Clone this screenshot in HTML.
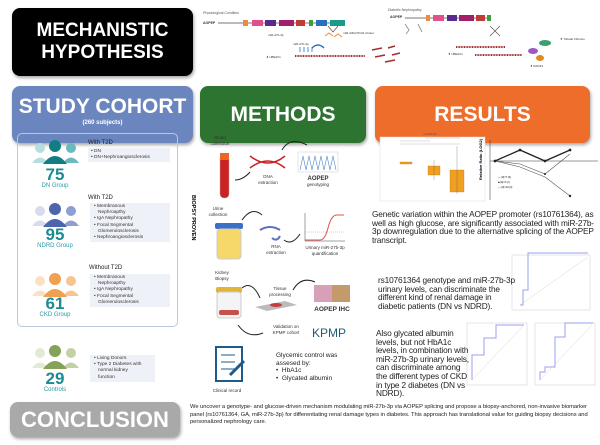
<!DOCTYPE html>
<html><head><meta charset="utf-8"><style>
*{margin:0;padding:0;box-sizing:border-box}
body{width:600px;height:445px;background:#fff;position:relative;overflow:hidden;font-family:"Liberation Sans",sans-serif}
.a{position:absolute}
.hd{position:absolute;border-radius:8px;color:#fff;font-weight:bold;text-align:center;font-family:"Liberation Sans Narrow","Liberation Sans",sans-serif;box-shadow:1px 2px 3px rgba(0,0,0,.35)}
.t{position:absolute;font-size:8.3px;line-height:8.6px;letter-spacing:-0.15px;color:#222}
.lb{position:absolute;background:#eef1f8;font-size:4.8px;line-height:6.2px;color:#333;padding:1px 3px}
.lb div:before{content:"•  "}
.num{position:absolute;font-weight:bold;font-size:17px;line-height:17px;text-align:center;width:60px}
.gl{position:absolute;font-size:6px;line-height:7px;text-align:center;width:60px}
.wt{position:absolute;font-size:6px;color:#222}
</style></head><body>

<div class="hd" style="left:12px;top:8px;width:181px;height:68px;background:#000;font-size:19px;line-height:22px;padding-top:12px">MECHANISTIC<br>HYPOTHESIS</div>
<div class="hd" style="left:12px;top:86px;width:181px;height:57px;background:#6b86bf;font-size:21px;line-height:22px;padding-top:10px">STUDY COHORT<div style="font-size:6px;line-height:10px;font-family:'Liberation Sans'">(260 subjects)</div></div>
<div class="hd" style="left:200px;top:86px;width:166px;height:57px;background:#2e7431;font-size:21px;line-height:57px">METHODS</div>
<div class="hd" style="left:375px;top:86px;width:215px;height:57px;background:#ee6d2a;font-size:21px;line-height:57px">RESULTS</div>

<svg class="a" style="left:200px;top:0" width="400" height="80">
<text x="3" y="14" font-size="3.5" fill="#555">Physiological Condition</text>
<text x="3" y="24" font-size="3.5" font-weight="bold" fill="#333">AOPEP</text>
<line x1="18" y1="23" x2="135" y2="23" stroke="#777" stroke-width="1"/>
<rect x="43" y="20" width="5" height="6" fill="#f08a3a"/><rect x="52" y="20" width="11" height="6" fill="#e0508a"/><rect x="65" y="20" width="11" height="6" fill="#5a2a8a"/><rect x="79" y="20" width="15" height="6" fill="#a0206a"/><rect x="96" y="20" width="9" height="6" fill="#c03a3a"/><rect x="109" y="20" width="4" height="6" fill="#3aa03a"/><rect x="116" y="20" width="11" height="6" fill="#2a70c0"/><rect x="130" y="20" width="15" height="6" fill="#1a9a8a"/>
<text x="68" y="36" font-size="3" fill="#333">miR-27b-3p</text>
<path d="M128 26 L133 32 L138 26" stroke="#444" fill="none" stroke-width=".6"/>
<path d="M125 36l4-3 4 3M134 37l4-3 4 3" stroke="#f08a3a" fill="none"/>
<text x="143" y="34" font-size="3" fill="#333">miR-23b/27b/24 cluster</text>
<line x1="95" y1="56" x2="165" y2="56" stroke="#a03030" stroke-width="2" stroke-dasharray="1 .6"/>
<path d="M100 52v-5M104 52v-5M108 52v-5M112 52v-5" stroke="#2a70c0" stroke-width=".8"/>
<path d="M112 48q6-6 12 0" stroke="#2a70c0" fill="none" stroke-width="1.5"/>
<text x="93" y="45" font-size="3" fill="#333">miR-27b-3p</text>
<text x="66" y="58" font-size="3" fill="#333">⬇ UBE2V1</text>
<g stroke="#a03030" stroke-width="1.5"><line x1="172" y1="50" x2="182" y2="48"/><line x1="175" y1="57" x2="185" y2="55"/><line x1="185" y1="62" x2="195" y2="60"/><line x1="188" y1="48" x2="195" y2="46"/><line x1="192" y1="55" x2="200" y2="53"/></g>
<text x="188" y="11" font-size="3.5" fill="#555">Diabetic Nephropathy</text>
<text x="190" y="18" font-size="3.5" font-weight="bold" fill="#333">AOPEP</text>
<line x1="205" y1="18" x2="290" y2="18" stroke="#777"/>
<rect x="226" y="15" width="4" height="6" fill="#f08a3a"/><rect x="233" y="15" width="11" height="6" fill="#e0508a"/><rect x="247" y="15" width="10" height="6" fill="#5a2a8a"/><rect x="259" y="15" width="15" height="6" fill="#a0206a"/><rect x="276" y="15" width="9" height="6" fill="#c03a3a"/><rect x="287" y="15" width="4" height="6" fill="#3aa03a"/>
<path d="M205 24l4 6-3 4M218 24l4 8" stroke="#999" fill="none"/>
<path d="M290 26l10 10M300 26l-10 10" stroke="#555" stroke-width=".7"/>
<line x1="256" y1="47" x2="305" y2="47" stroke="#a03030" stroke-width="2" stroke-dasharray="1 .6"/>
<line x1="275" y1="55" x2="322" y2="55" stroke="#a03030" stroke-width="2" stroke-dasharray="1 .6"/>
<text x="248" y="55" font-size="3" fill="#333">⬆ UBE2V1</text>
<ellipse cx="333" cy="51" rx="5" ry="3" fill="#9a5ac0"/><ellipse cx="345" cy="43" rx="6" ry="3" fill="#3aa070"/><ellipse cx="340" cy="58" rx="4" ry="3" fill="#e08a20"/>
<text x="360" y="40" font-size="3" fill="#333">⬆ Tubular Fibrosis</text>
<text x="330" y="67" font-size="3" fill="#333">⬆ RAD23</text>
</svg>

<div class="a" style="left:17px;top:133px;width:161px;height:194px;border:1px solid #bcc6e0;border-radius:5px"></div>
<div class="a" style="left:184px;top:195px;width:12px;font-size:5.5px;font-weight:bold;writing-mode:vertical-rl">BIOPSY PROVEN</div>
<svg class="a" style="left:30px;top:140px" width="52" height="250">
<g><circle cx="10" cy="8" r="5" fill="#b6dde0"/><circle cx="41" cy="8" r="5" fill="#6bb8bf"/><path d="M2 23q8-11 16 0z" fill="#b6dde0"/><path d="M33 23q8-11 16 0z" fill="#6bb8bf"/><circle cx="25" cy="6" r="6" fill="#137d85"/><path d="M13 24q12-16 24 0z" fill="#137d85"/></g>
<g transform="translate(0,63)"><circle cx="10" cy="8" r="5" fill="#d6dcee"/><circle cx="41" cy="8" r="5" fill="#8d9fd2"/><path d="M2 23q8-11 16 0z" fill="#d6dcee"/><path d="M33 23q8-11 16 0z" fill="#8d9fd2"/><circle cx="25" cy="6" r="6" fill="#4c65ad"/><path d="M13 24q12-16 24 0z" fill="#4c65ad"/></g>
<g transform="translate(0,133)"><circle cx="10" cy="8" r="5" fill="#fbe0c4"/><circle cx="41" cy="8" r="5" fill="#f6c592"/><path d="M2 23q8-11 16 0z" fill="#fbe0c4"/><path d="M33 23q8-11 16 0z" fill="#f6c592"/><circle cx="25" cy="6" r="6" fill="#f0a050"/><path d="M13 24q12-16 24 0z" fill="#f0a050"/></g>
<g transform="translate(0,205)"><circle cx="10" cy="8" r="5" fill="#e2ead5"/><circle cx="41" cy="8" r="5" fill="#c2d2a6"/><path d="M2 23q8-11 16 0z" fill="#e2ead5"/><path d="M33 23q8-11 16 0z" fill="#c2d2a6"/><circle cx="25" cy="6" r="6" fill="#86a158"/><path d="M13 24q12-16 24 0z" fill="#86a158"/></g>
</svg>
<div class="num" style="left:25px;top:166px;color:#1d8a94">75</div><div class="gl" style="left:25px;top:183px;color:#2a9aa5">DN Group</div>
<div class="num" style="left:25px;top:226px;color:#1d8a94">95</div><div class="gl" style="left:25px;top:243px;color:#2a9aa5">NDRD Group</div>
<div class="num" style="left:25px;top:295px;color:#1d8a94">61</div><div class="gl" style="left:25px;top:312px;color:#2a9aa5">CKD Group</div>
<div class="num" style="left:25px;top:370px;color:#1d8a94">29</div><div class="gl" style="left:25px;top:387px;color:#2a9aa5">Controls</div>

<div class="wt" style="left:88px;top:140px">With T2D</div>
<div class="lb" style="left:88px;top:148px;width:82px"><div>DN</div><div>DN+Nephroangiosclerosis</div></div>
<div class="wt" style="left:88px;top:195px">With T2D</div>
<div class="lb" style="left:90px;top:203px;width:80px;padding-left:4px"><div>Membranous<br>&nbsp;&nbsp;&nbsp;Nephroapthy</div><div>IgA Nephropathy</div><div>Focal Segmental<br>&nbsp;&nbsp;&nbsp;Glomerulosclerosis</div><div>Nephroangiosclerosis</div></div>
<div class="wt" style="left:89px;top:265px">Without T2D</div>
<div class="lb" style="left:90px;top:274px;width:80px;padding-left:4px"><div>Membranous<br>&nbsp;&nbsp;&nbsp;Nephroapthy</div><div>IgA Nephropathy</div><div>Focal Segmental<br>&nbsp;&nbsp;&nbsp;Glomerulosclerosis</div></div>
<div class="lb" style="left:90px;top:355px;width:65px;padding-left:4px"><div>Living Donors</div><div>Type 2 Diabetes with<br>&nbsp;&nbsp;&nbsp;normal kidney<br>&nbsp;&nbsp;&nbsp;function</div></div>

<svg class="a" style="left:200px;top:130px" width="170" height="270" font-family="Liberation Sans" font-size="4.5" fill="#333">
<text x="20" y="9" text-anchor="middle">Blood</text><text x="20" y="15" text-anchor="middle">collection</text>
<rect x="20" y="25" width="9" height="43" rx="4" fill="#c22" stroke="#aaa" stroke-width=".5"/><rect x="20" y="23" width="9" height="7" fill="#ee6622"/>
<path d="M35 50q8 0 15-8" stroke="#222" fill="none"/>
<path d="M50 26q18 14 35 0M50 38q18-14 35 0" stroke="#c22" stroke-width="1.5" fill="none"/>
<text x="68" y="48" text-anchor="middle">DNA</text><text x="68" y="54" text-anchor="middle">extraction</text>
<path d="M82 20q8-14 25-5" stroke="#222" fill="none"/>
<rect x="98" y="22" width="40" height="20" fill="#fff" stroke="#ccc" stroke-width=".5"/>
<path d="M100 40l3-14 3 14 3-14 3 14 3-14 3 14 3-14 3 14 3-14 3 14 3-14 3 14" stroke="#5a8ad0" stroke-width=".6" fill="none"/>
<text x="118" y="50" text-anchor="middle" font-weight="bold" font-size="6">AOPEP</text><text x="118" y="56" text-anchor="middle">genotyping</text>
<text x="18" y="80" text-anchor="middle">Urine</text><text x="18" y="86" text-anchor="middle">collection</text>
<rect x="15" y="93" width="28" height="6" rx="2" fill="#3a70c8"/><rect x="17" y="99" width="24" height="30" rx="3" fill="#f5d76a" stroke="#ccc"/>
<path d="M42 90q10-14 20-5" stroke="#222" fill="none"/>
<path d="M60 100q10-6 20 0M72 108q5 4 8-2" stroke="#5a70c0" stroke-width="2" fill="none"/>
<text x="76" y="118" text-anchor="middle">RNA</text><text x="76" y="124" text-anchor="middle">extraction</text>
<path d="M84 110q8 6 16-6" stroke="#222" fill="none"/>
<line x1="105" y1="83" x2="105" y2="111" stroke="#444" stroke-width=".5"/><line x1="105" y1="111" x2="145" y2="111" stroke="#444" stroke-width=".5"/>
<path d="M105 110h15q5 0 8-12t8-13h8" stroke="#e05050" fill="none"/><line x1="105" y1="102" x2="145" y2="102" stroke="#888" stroke-width=".4" stroke-dasharray="1 1"/>
<text x="125" y="119" text-anchor="middle">Urinary miR-27b-3p</text><text x="125" y="125" text-anchor="middle">quantification</text>
<text x="22" y="144" text-anchor="middle">Kidney</text><text x="22" y="150" text-anchor="middle">Biopsy</text>
<rect x="16" y="157" width="26" height="6" rx="2" fill="#e2b43a"/><rect x="17" y="162" width="24" height="26" rx="3" fill="#f4f4f4" stroke="#ccc"/><rect x="19" y="180" width="20" height="5" rx="2" fill="#c8504a"/>
<path d="M42 158q10-8 18 10" stroke="#222" fill="none"/>
<path d="M55 177l30-6 12 4-30 6z" fill="#bbb"/><ellipse cx="76" cy="175" rx="6" ry="2" fill="#c04040"/>
<text x="80" y="160" text-anchor="middle">Tissue</text><text x="80" y="166" text-anchor="middle">processing</text>
<path d="M93 160q8-14 22-8" stroke="#222" fill="none"/>
<rect x="114" y="155" width="36" height="17" fill="#d8a0b8"/><rect x="132" y="155" width="18" height="17" fill="#c49a6a"/>
<text x="132" y="181" text-anchor="middle" font-weight="bold" font-size="6.5">AOPEP IHC</text>
<path d="M38 195q10 14 25 8" stroke="#222" fill="none"/>
<text x="86" y="198" text-anchor="middle">Validation on</text><text x="86" y="204" text-anchor="middle">KPMP cohort</text>
<text x="112" y="207" font-size="12" fill="#1e5a7a" font-family="Liberation Sans Narrow,Liberation Sans">KPMP</text>
<rect x="16" y="217" width="26" height="34" fill="#fff" stroke="#1e5a8a" stroke-width="2"/>
<path d="M21 225h14M21 232h14M21 239h14" stroke="#1e5a8a"/><path d="M30 245l14-14" stroke="#1e5a8a" stroke-width="3"/>
<text x="27" y="262" text-anchor="middle">Clinical record</text>
</svg>
<div class="a" style="left:276px;top:352px;font-size:6.5px;line-height:7.5px;color:#222">Glycemic control was<br>assesed by:<br>•&nbsp; HbA1c<br>•&nbsp; Glycated albumin</div>

<svg class="a" style="left:370px;top:130px" width="230" height="270" font-family="Liberation Sans">
<rect x="10" y="7" width="105" height="64" fill="#fff" stroke="#ddd" stroke-width=".5"/>
<text x="60" y="5" font-size="2.5" text-anchor="middle" fill="#555">rs10761364</text>
<path d="M30 14h60M30 11h30M55 8h35" stroke="#aaa" stroke-width=".4"/>
<rect x="30" y="32" width="12" height="2" fill="#f0a020" stroke="#b07010" stroke-width=".3"/>
<rect x="58" y="36" width="12" height="9" fill="#f0a020" stroke="#b07010" stroke-width=".3"/><line x1="64" y1="30" x2="64" y2="50" stroke="#555" stroke-width=".3"/>
<rect x="80" y="40" width="14" height="22" fill="#f0a020" stroke="#b07010" stroke-width=".3"/><line x1="87" y1="16" x2="87" y2="64" stroke="#555" stroke-width=".3"/>
<line x1="120" y1="10" x2="120" y2="70" stroke="#333" stroke-width=".5"/><line x1="120" y1="31" x2="228" y2="31" stroke="#333" stroke-width=".5"/>
<text x="112" y="50" font-size="4" font-weight="bold" transform="rotate(-90 112 50)">Relative Ratio (LOG2)</text>
<path d="M125 31L150 20 175 31 200 20" stroke="#222" stroke-width="1.3" fill="none"/>
<path d="M125 31L150 34 175 44 200 24" stroke="#555" stroke-width=".6" fill="none"/>
<path d="M125 31L150 37 175 47 200 66" stroke="#555" stroke-width=".6" fill="none"/>
<g fill="#222"><circle cx="125" cy="31" r="1.4"/><circle cx="150" cy="20" r="1.4"/><circle cx="175" cy="31" r="1.4"/><circle cx="200" cy="20" r="1.4"/><circle cx="175" cy="44" r="1"/><circle cx="200" cy="66" r="1.2"/></g>
<text x="128" y="48" font-size="2.5">— (0)=T (0)</text><text x="128" y="53" font-size="2.5">■ (0)=C (I)</text><text x="128" y="58" font-size="2.5">— (0)=1A (0)</text>
<rect x="142" y="125" width="78" height="55" fill="#fff" stroke="#ccc" stroke-width=".5"/>
<path d="M150 175h3v-15h5v-37h60" stroke="#9aa0f0" stroke-width="1" fill="none"/><line x1="150" y1="175" x2="218" y2="127" stroke="#ccc" stroke-width=".4"/>
<rect x="97" y="193" width="60" height="62" fill="#fff" stroke="#ccc" stroke-width=".5"/>
<path d="M102 250v-25h12v-17h12v-13h28" stroke="#9aa0f0" fill="none"/><line x1="102" y1="250" x2="154" y2="195" stroke="#ccc" stroke-width=".4"/>
<rect x="165" y="193" width="60" height="62" fill="#fff" stroke="#ccc" stroke-width=".5"/>
<path d="M170 250v-8h5v-5h10v-30h10v-14h28" stroke="#9aa0f0" fill="none"/><line x1="170" y1="250" x2="222" y2="195" stroke="#ccc" stroke-width=".4"/>
</svg>
<div class="t" style="left:372px;top:210px;width:228px">Genetic variation within the AOPEP promoter (rs10761364), as well as high glucose, are significantly associated with miR-27b-3p downregulation due to the alternative splicing of the AOPEP transcript.</div>
<div class="t" style="left:378px;top:276px;width:138px">rs10761364 genotype and miR-27b-3p urinary levels, can discriminate the different kind of renal damage in diabetic patients (DN vs NDRD).</div>
<div class="t" style="left:376px;top:329px;width:94px">Also glycated albumin levels, but not HbA1c levels, in combination with miR-27b-3p urinary levels, can discriminate among the different types of CKD in type 2 diabetes (DN vs NDRD).</div>

<div class="hd" style="left:10px;top:402px;width:170px;height:35px;background:#a9a9a9;font-size:22px;line-height:35px;color:#fff">CONCLUSION</div>
<div class="a" style="left:190px;top:404px;width:406px;font-size:5.8px;line-height:7.6px;letter-spacing:-0.05px;color:#222">We uncover a genotype- and glucose-driven mechanism modulating miR-27b-3p via AOPEP splicing and propose a biopsy-anchored, non-invasive biomarker panel (rs10761364, GA, miR-27b-3p) for differentiating renal damage types in diabetes. This approach has translational value for guiding biopsy decisions and personalized nephrology care.</div>
</body></html>
